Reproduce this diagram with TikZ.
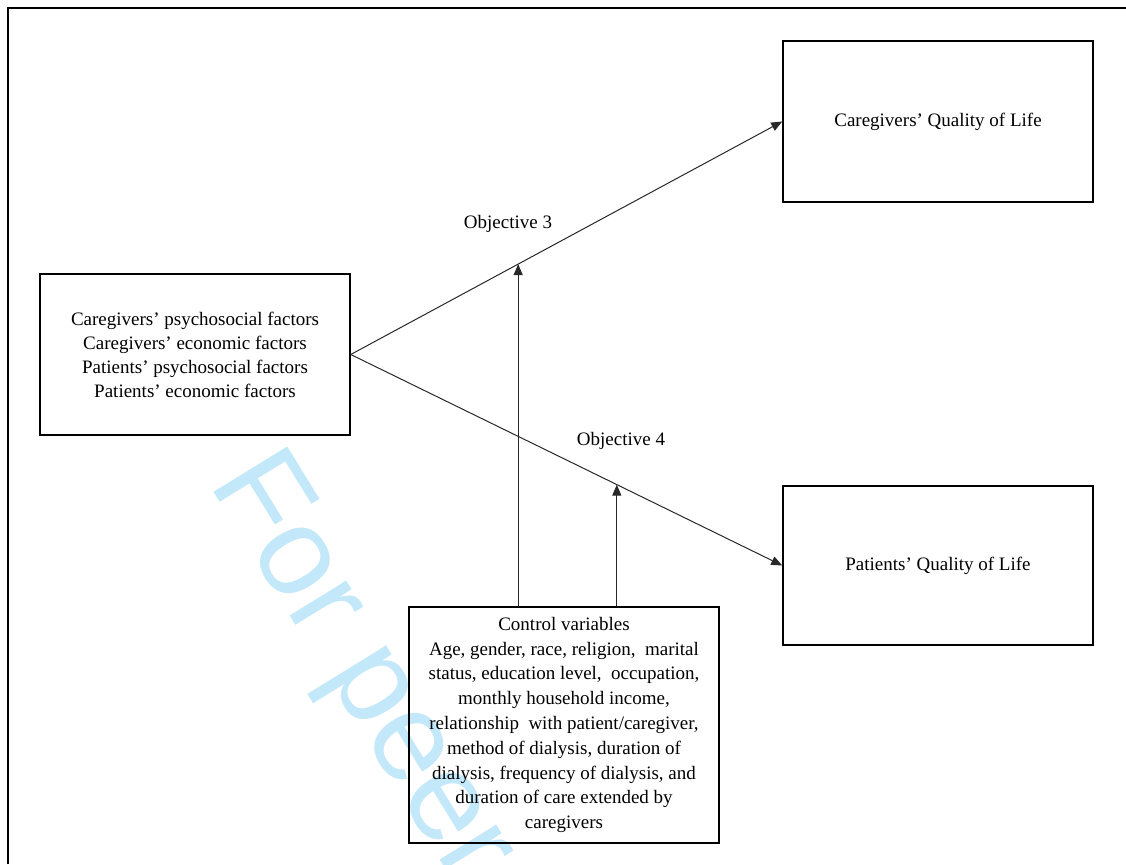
\documentclass[tikz,border=0pt]{standalone}
\usepackage{fontspec}
\setmainfont{Liberation Serif}
\newfontfamily\wmfont{Liberation Sans}
\usetikzlibrary{arrows.meta,calc}
\definecolor{wmblue}{RGB}{195,232,250}
\definecolor{linegray}{RGB}{40,40,40}
\begin{document}
\begin{tikzpicture}[x=1pt,y=-1pt,
  box/.style={draw=black,line width=1.5pt,minimum width=310pt,align=center,inner sep=0pt,font=\fontsize{19}{24}\selectfont},
  conn/.style={draw=linegray,line width=1pt,-{Triangle[length=11pt,width=9pt]}},
  lbl/.style={font=\fontsize{19}{24}\selectfont,inner sep=0pt}]
\useasboundingbox (0,0) rectangle (1126,864);
% watermark
\node[anchor=base west,rotate=-58.4,text=wmblue,inner sep=0pt,font=\wmfont\fontsize{126}{126}\selectfont] (wm) at (208,483) {For peer review};
% frame
\draw[line width=2pt] (8,864) -- (8,8) -- (1126,8);
% boxes
\node[box,minimum height=161pt] (L) at (195,354.5) {Caregivers’ psychosocial factors\\Caregivers’ economic factors\\Patients’ psychosocial factors\\Patients’ economic factors};
\node[box,minimum height=161pt] (CQ) at (938,121.5) {Caregivers’ Quality of Life};
\node[box,minimum height=159pt] (PQ) at (938,565.5) {Patients’ Quality of Life};
\node[box,minimum height=236pt,font=\fontsize{19}{24.8}\selectfont] (K) at (564,725) {Control variables\\Age, gender, race, religion, \ marital\\status, education level, \ occupation,\\monthly household income,\\relationship \ with patient/caregiver,\\method of dialysis, duration of\\dialysis, frequency of dialysis, and\\duration of care extended by\\caregivers};
% connectors
\draw[conn] (L.east) -- (CQ.west);
\draw[conn] (L.east) -- (PQ.west);
\coordinate (o3) at ($(L.east)!0.388!(CQ.west)$);
\coordinate (o4) at ($(L.east)!0.6166!(PQ.west)$);
\draw[conn] (o3 |- K.north) -- (o3);
\draw[conn] (o4 |- K.north) -- (o4);
% labels
\node[lbl] (t3) at (508,224) {Objective 3};
\node[lbl] (t4) at (621,441) {Objective 4};
\end{tikzpicture}
\end{document}
